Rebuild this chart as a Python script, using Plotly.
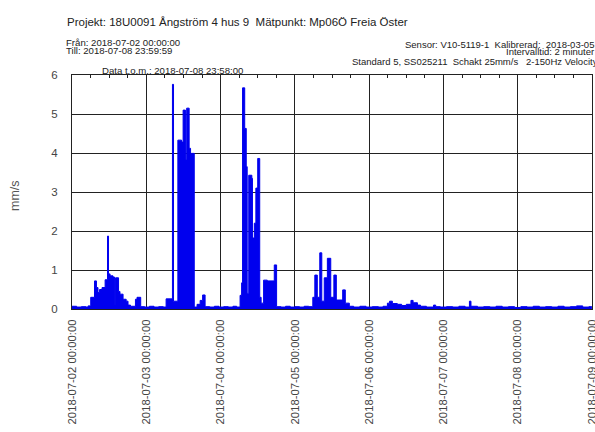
import pandas as pd
import plotly.graph_objects as go

# Hours after 2018-07-02 00:00:00 and vibration velocity (mm/s)
hours = [0, 1.5, 3, 4.5, 5.2, 6.05, 7.28, 7.9, 8.4, 8.9, 9.7, 10.7, 11.48, 11.8, 12.3,
         13.25, 13.75, 14.07, 15.04, 15.5, 16.5, 17.5, 18.1, 18.9, 20.5, 21.0, 22.2,
         23.5, 25, 26.5, 28, 29.5, 30.4, 32.45, 32.8, 34.2, 35.4, 35.9, 36.65, 37.05,
         37.85, 38.3, 39.5, 40.4, 41.4, 42.2, 43.0, 44.5, 46, 47.5, 49, 50.5, 52, 53.2,
         54.3, 54.8, 55.1, 55.8, 56.3, 56.6, 57.1, 58.1, 58.3, 58.9, 59.4, 60.0, 60.65,
         61.1, 61.9, 63.1, 65.35, 66.1, 67.5, 69, 70.5, 72, 73.5, 75, 76.5, 77.8, 78.45,
         79.25, 80.05, 80.7, 81.5, 82.5, 83.6, 84.6, 85.4, 87.45, 88.3, 89.6, 91, 93, 95,
         97, 99, 100.5, 101.9, 102.6, 103.5, 105.1, 106.5, 108, 109.5, 110.2, 111.6,
         112.6, 114.5, 116.8, 117.5, 119, 121, 123, 125, 127, 128.4, 128.9, 131, 133,
         135, 137, 139, 141, 143, 145, 147, 149, 151, 153, 155, 157, 159, 161, 163, 165,
         167, 167.967]
velocity = [0.07, 0.05, 0.06, 0.05, 0.08, 0.30, 0.72, 0.55, 0.42, 0.50, 0.55, 0.75, 1.87,
            0.90, 0.85, 0.82, 0.10, 0.80, 0.45, 0.38, 0.25, 0.20, 0.10, 0.07, 0.25, 0.30,
            0.06, 0.05, 0.07, 0.05, 0.06, 0.05, 0.26, 5.76, 0.20, 4.33, 4.28, 5.10, 3.82,
            5.15, 4.12, 3.99, 0.05, 0.12, 0.22, 0.36, 0.06, 0.05, 0.07, 0.05, 0.06, 0.05,
            0.07, 0.05, 0.35, 0.67, 5.67, 4.63, 3.65, 0.40, 3.43, 3.35, 1.82, 2.20, 3.10,
            3.86, 0.30, 0.15, 0.74, 0.72, 1.13, 0.06, 0.05, 0.07, 0.05, 0.06, 0.05, 0.07,
            0.06, 0.30, 0.87, 0.30, 1.44, 0.20, 0.80, 1.30, 0.30, 0.87, 0.23, 0.49, 0.15,
            0.07, 0.05, 0.07, 0.05, 0.06, 0.05, 0.07, 0.15, 0.20, 0.14, 0.12, 0.09, 0.12,
            0.22, 0.16, 0.10, 0.07, 0.05, 0.10, 0.06, 0.05, 0.06, 0.05, 0.07, 0.05, 0.20,
            0.07, 0.05, 0.06, 0.05, 0.07, 0.05, 0.06, 0.04, 0.06, 0.05, 0.07, 0.05, 0.06,
            0.05, 0.07, 0.05, 0.06, 0.08, 0.05, 0.06, 0.06]

start = pd.Timestamp("2018-07-02 00:00:00")
times = [start + pd.Timedelta(hours=h) for h in hours]

x_start = "2018-07-02 00:00:00"
x_end = "2018-07-09 00:00:00"
y_ticks = [0, 1, 2, 3, 4, 5, 6]

NB = "\u00a0"
title_text = "Projekt: 18U0091 Ångström 4 hus 9" + NB + " Mätpunkt: Mp06Ö Freia Öster"
left_lines = ["Från: 2018-07-02 00:00:00", "Till: 2018-07-08 23:59:59"]
right_lines = ["Sensor: V10-5119-1" + NB + " Kalibrerad:" + NB + " 2018-03-05",
               "Intervalltid: 2 minuter",
               "Standard 5, SS025211" + NB + " Schakt 25mm/s" + NB + NB + " 2-150Hz Velocity"]
data_tom = "Data t.o.m.: 2018-07-08 23:58:00"
y_title = "mm/s"

W, H = 595, 432
L, R, T, B = 72, 592, 75, 309

fig = go.Figure()
fig.add_trace(go.Scatter(x=times, y=velocity, mode="lines", line=dict(color="#0000ee", width=1, shape="hv"),
                         fill="tozeroy", fillcolor="#0000ee", showlegend=False, hoverinfo="skip"))
# invisible trace to drive top axis ticks
fig.add_trace(go.Scatter(x=[x_start, x_end], y=[0, 0], xaxis="x2", mode="lines",
                         line=dict(width=0), showlegend=False, hoverinfo="skip"))

font = "Liberation Sans, Arial, sans-serif"
fig.update_layout(
    width=W, height=H,
    margin=dict(l=L, r=W - R, t=T, b=H - B, pad=0, autoexpand=False),
    paper_bgcolor="white", plot_bgcolor="white",
    font=dict(family=font, size=11, color="#333333"),
    xaxis=dict(range=[x_start, x_end], type="date", dtick=86400000, tick0=x_start,
               tickformat="%Y-%m-%d %H:%M:%S", tickangle=-90, showgrid=True,
               gridcolor="#222222", gridwidth=1, showline=True, linecolor="#222222",
               linewidth=1, mirror=True, ticks="outside", ticklen=5, tickcolor="white",
               tickfont=dict(size=11.3, color="#444444"), automargin=False,
               ticklabeloverflow="allow", zeroline=False),
    xaxis2=dict(range=[x_start, x_end], type="date", overlaying="x", side="top",
                dtick=21600000, tick0=x_start, ticks="inside", ticklen=3, tickcolor="#222222",
                showticklabels=False, showgrid=False, showline=False, automargin=False),
    yaxis=dict(range=[0, 6], tickvals=y_ticks, showgrid=True, gridcolor="#222222", gridwidth=1,
               showline=True, linecolor="#222222", linewidth=1, mirror=True, ticks="outside",
               ticklen=11, tickcolor="white", automargin=False,
               zeroline=False, tickfont=dict(size=11.5, color="#444444")),
)

def px(xs):
    return (xs - L) / (R - L)

def py(ys):
    return (B - ys) / (B - T)

fig.add_annotation(text=y_title, xref="paper", yref="paper", x=px(15), y=py(196),
                   xanchor="center", yanchor="middle", textangle=-90, showarrow=False,
                   font=dict(size=12.5, color="#555555", family=font))
fig.add_annotation(text=title_text, xref="paper", yref="paper", x=px(65), y=py(22),
                   xanchor="left", yanchor="middle", showarrow=False,
                   font=dict(size=11.5, color="#222222", family=font))
for i, t in enumerate(left_lines):
    fig.add_annotation(text=t, xref="paper", yref="paper", x=px(64), y=py(42 + 8.7 * i),
                       xanchor="left", yanchor="middle", showarrow=False,
                       font=dict(size=9.6, color="#222222", family=font))
right_x = [596, 596, 600]
right_y = [44, 51.7, 61.2]
for t, xr, yr in zip(right_lines, right_x, right_y):
    fig.add_annotation(text=t, xref="paper", yref="paper", x=px(xr), y=py(yr),
                       xanchor="right", yanchor="middle", showarrow=False,
                       font=dict(size=9.5, color="#222222", family=font))
fig.add_annotation(text=data_tom, xref="paper", yref="paper", x=px(172), y=py(70),
                   xanchor="center", yanchor="middle", showarrow=False,
                   font=dict(size=9.6, color="#222222", family=font))

fig.write_html("out.html", config={"displayModeBar": False},
               post_script="document.body.style.margin='0';document.body.style.overflow='hidden';")
